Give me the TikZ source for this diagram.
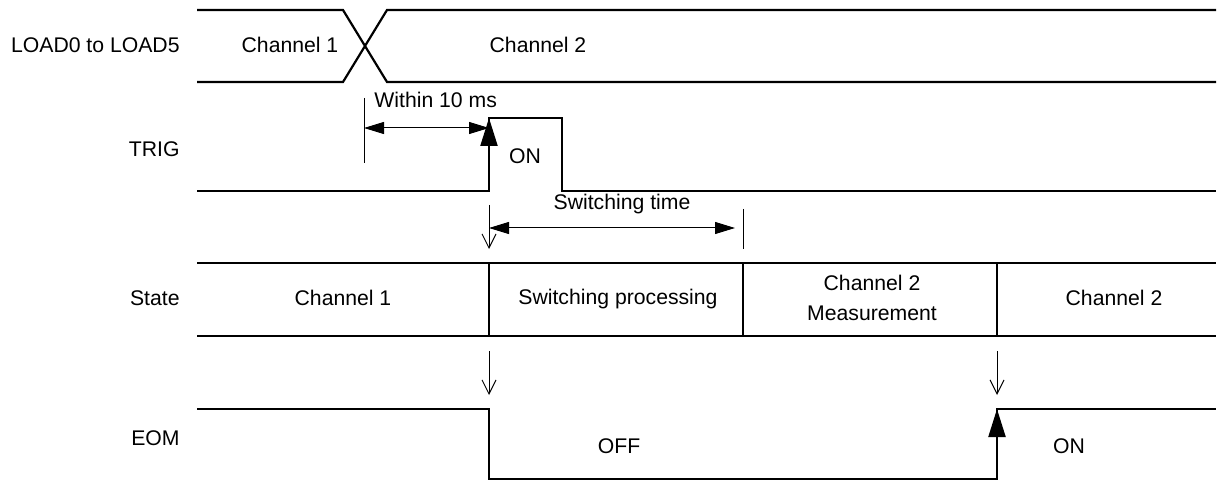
\documentclass[tikz,border=0pt]{standalone}
\usepackage{fontspec}
\setmainfont{Liberation Sans}
\usetikzlibrary{arrows.meta,positioning}
\tikzset{
  % signal traces and the state frame
  sigln/.style={line width=1.1pt},
  % thin helper lines: ticks, dimension arrows, markers
  helpln/.style={line width=0.5pt},
  dimarr/.style={helpln, arrows={Triangle[length=10pt,width=6pt]-Triangle[length=10pt,width=6pt]}},
  edgearr/.style={line width=1.1pt, arrows={-Triangle[length=14pt,width=8.5pt]}},
  markarr/.style={helpln, arrows={-Straight Barb[length=7pt,width=7pt]}},
  % texts
  lbl/.style={font=\fontsize{10.6}{13}\selectfont, inner sep=0pt, anchor=base},
  rowlbl/.style={lbl, anchor=base east},
}

\begin{document}
\begin{tikzpicture}[x=0.5pt, y=-0.5pt]
    \useasboundingbox (0,0) rectangle (1222,481);
    % row names
    \node[rowlbl] (nload)  at (180,53)  {LOAD0 to LOAD5};
    \node[rowlbl] (ntrig)  at (180,157) {TRIG};
    \node[rowlbl] (nstate) at (180,306) {State};
    \node[rowlbl] (neom)   at (180,445) {EOM};
    % LOAD0 to LOAD5: channel change
    \draw[sigln] (197,10) -- (343,10) -- (387,82) -- (1216,82);
    \draw[sigln] (197,82) -- (343,82) -- (387,10) -- (1216,10);
    \node[lbl] (ldch1) at (290,53) {Channel 1};
    \node[lbl] (ldch2) at (538,53) {Channel 2};
    % TRIG pulse
    \draw[sigln] (197,191) -- (489,191) -- (489,118) -- (562,118) -- (562,191) -- (1216,191);
    \coordinate (trigbot) at (489,191);
    \coordinate (trigtop) at (489,118);
    \draw[edgearr] (trigbot) -- (trigtop);
    \node[lbl] (trigon) at (525,163) {ON};
    % within 10 ms
    \coordinate (wtop) at (364,98);
    \coordinate (wbot) at (364,163);
    \coordinate (wl) at (364,128);
    \coordinate (wr) at (489,128);
    \draw[helpln] (wtop) -- (wbot);
    \draw[dimarr] (wl) -- (wr);
    \node[lbl, anchor=base west] (within) at (374,108) {Within 10 ms};
    % switching time
    \coordinate (swdtop) at (489,205);
    \coordinate (swdbot) at (489,249);
    \coordinate (swl) at (489,228);
    \coordinate (swr) at (735,228);
    \coordinate (swttop) at (743,209);
    \coordinate (swtbot) at (743,249);
    \draw[markarr] (swdtop) -- (swdbot);
    \draw[dimarr] (swl) -- (swr);
    \draw[helpln] (swttop) -- (swtbot);
    \node[lbl] (swtime) at (622,210) {Switching time};
    % State frame
    \draw[sigln] (197,263) -- (1216,263);
    \draw[sigln] (197,336) -- (1216,336);
    \foreach \xd in {489,743,997}
      \draw[sigln] (\xd,263) -- (\xd,336);
    \node[lbl] (stch1) at (343,305) {Channel 1};
    \node[lbl] (stproc) at (618,304) {Switching processing};
    \node[lbl] (stmeas) at (872,291) {Channel 2};
    \node[lbl] (stmeas2) at (872,320) {Measurement};
    \node[lbl] (stch2) at (1114,306) {Channel 2};
    % markers from State to EOM
    \coordinate (ma) at (489,351);
    \coordinate (mb) at (489,395);
    \coordinate (mc) at (997,351);
    \coordinate (md) at (997,395);
    \draw[markarr] (ma) -- (mb);
    \draw[markarr] (mc) -- (md);
    % EOM
    \draw[sigln] (197,409) -- (489,409) -- (489,479) -- (997,479) -- (997,409) -- (1216,409);
    \coordinate (eombot) at (997,479);
    \coordinate (eomtop) at (997,409);
    \draw[edgearr] (eombot) -- (eomtop);
    \node[lbl] (eomoff) at (619,453) {OFF};
    \node[lbl] (eomon) at (1069,453) {ON};
  \end{tikzpicture}
\end{document}
